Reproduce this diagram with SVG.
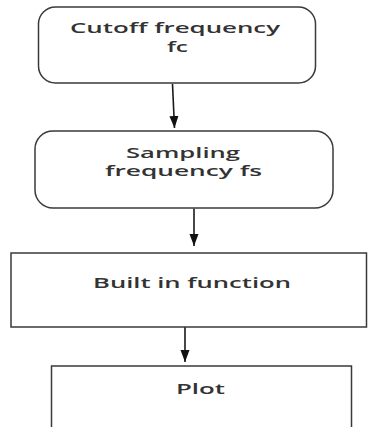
<svg xmlns="http://www.w3.org/2000/svg" width="368" height="427" viewBox="0 0 368 427">
  <style>
    .box { fill: #ffffff; stroke: #3a3a3a; stroke-width: 1.5; }
    .label { font-family: "Open Sans", "Liberation Sans", sans-serif; font-size: 15px; font-weight: 600; fill: #333333; }
    .edge { stroke: #1a1a1a; stroke-width: 1.6; fill: none; }
  </style>
  <defs>
    <marker id="arrow" markerUnits="userSpaceOnUse" markerWidth="16" markerHeight="10" refX="12" refY="5" orient="auto">
      <path d="M0,0.5 L12,5 L0,9.5 Z" fill="#111111"/>
    </marker>
  </defs>
  <rect width="368" height="427" fill="#ffffff"/>

  <g id="connectors">
    <line class="edge" x1="172.5" y1="84" x2="174.5" y2="128" marker-end="url(#arrow)"/>
    <line class="edge" x1="194" y1="208.5" x2="194" y2="246" marker-end="url(#arrow)"/>
    <line class="edge" x1="185" y1="327" x2="185" y2="362" marker-end="url(#arrow)"/>
  </g>

  <g id="cutoff">
    <rect class="box" x="38.5" y="7" width="277" height="76" rx="17" ry="17"/>
    <text class="label" x="70" y="33" textLength="210" lengthAdjust="spacingAndGlyphs">Cutoff frequency</text>
    <text class="label" x="167" y="52" textLength="21" lengthAdjust="spacingAndGlyphs">fc</text>
  </g>

  <g id="sampling">
    <rect class="box" x="35" y="131" width="298" height="77" rx="18" ry="18"/>
    <text class="label" x="126" y="157.5" textLength="114" lengthAdjust="spacingAndGlyphs">Sampling</text>
    <text class="label" x="105" y="176" textLength="157" lengthAdjust="spacingAndGlyphs">frequency fs</text>
  </g>

  <g id="builtin">
    <rect class="box" x="11" y="253" width="355.5" height="74"/>
    <text class="label" x="93" y="287.5" textLength="198" lengthAdjust="spacingAndGlyphs">Built in function</text>
  </g>

  <g id="plot">
    <rect class="box" x="51.5" y="366" width="300" height="80"/>
    <text class="label" x="176" y="394" textLength="49" lengthAdjust="spacingAndGlyphs">Plot</text>
  </g>
</svg>
